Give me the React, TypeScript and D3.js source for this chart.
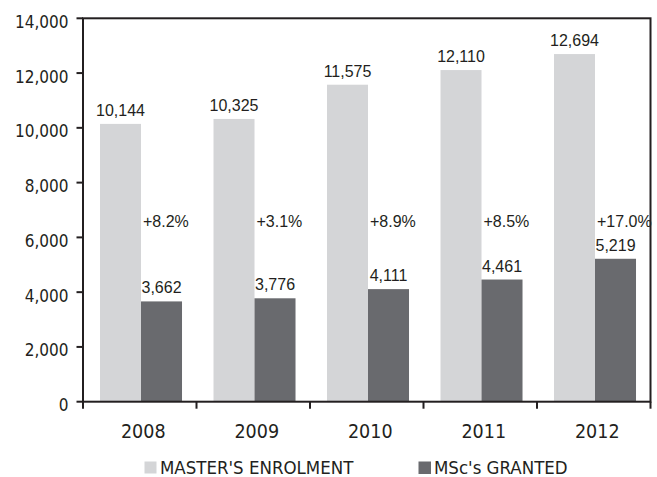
import React from "react";
import * as d3 from "d3";

const years = ["2008", "2009", "2010", "2011", "2012"];
const enrolment = [10144, 10325, 11575, 12110, 12694];
const granted = [3662, 3776, 4111, 4461, 5219];
const growth = ["+8.2%", "+3.1%", "+8.9%", "+8.5%", "+17.0%"];
const yTicks = [0, 2000, 4000, 6000, 8000, 10000, 12000, 14000];
const seriesNames = ["MASTER'S ENROLMENT", "MSc's GRANTED"];
const seriesKeys = ["enrol", "granted"];
const colors = ["#d4d5d7", "#696a6e"];
const GROWTH_LABEL_VALUE = 6390;

const W = 657;
const H = 477;
const left = 83;
const right = 650.5;
const top = 18.3;
const bottom = 401.7;
const axisColor = "#231f20";
const axisFont = "'DejaVu Sans Condensed', 'DejaVu Sans', sans-serif";
const valueFont = "'Liberation Sans', Arial, sans-serif";

export default function App() {
  const x = d3.scaleBand<string>().domain(years).range([left, right]).padding(0);
  const xs = d3
    .scaleBand<string>()
    .domain(seriesKeys)
    .range([0, x.bandwidth()])
    .paddingInner(0)
    .paddingOuter(0.384)
    .align(0.54);
  const y = d3.scaleLinear().domain([0, 14000]).range([bottom, top]);
  const fmt = d3.format(",");

  return (
    <svg
      width={W}
      height={H}
      style={{ position: "absolute", left: 0, top: 0, display: "block", background: "#fff" }}
    >
      {/* bars */}
      {years.map((yr, i) => {
        const bx = x(yr)!;
        const e = enrolment[i];
        const g = granted[i];
        return (
          <g key={yr}>
            <rect
              x={bx + xs("enrol")!}
              y={y(e)}
              width={xs.bandwidth()}
              height={y(0) - y(e)}
              fill={colors[0]}
            />
            <rect
              x={bx + xs("granted")!}
              y={y(g)}
              width={xs.bandwidth()}
              height={y(0) - y(g)}
              fill={colors[1]}
            />
            <text
              x={bx + xs("enrol")! + xs.bandwidth() / 2}
              y={y(e) - 8}
              textAnchor="middle"
              fontFamily={valueFont}
              fontSize={16}
              fill="#231f20"
            >
              {fmt(e)}
            </text>
            <text
              x={bx + xs("granted")! + xs.bandwidth() / 2}
              y={y(g) - 8}
              textAnchor="middle"
              fontFamily={valueFont}
              fontSize={16}
              fill="#231f20"
            >
              {fmt(g)}
            </text>
            <text
              x={bx + xs("granted")! + 2}
              y={y(GROWTH_LABEL_VALUE)}
              textAnchor="start"
              fontFamily={valueFont}
              fontSize={16}
              fill="#231f20"
            >
              {growth[i]}
            </text>
          </g>
        );
      })}

      {/* frame */}
      <rect
        x={left}
        y={top}
        width={right - left}
        height={bottom - top}
        fill="none"
        stroke={axisColor}
        strokeWidth={2}
      />

      {/* y axis ticks */}
      {yTicks.map((t) => (
        <g key={t}>
          <line x1={left - 6.5} x2={left} y1={y(t)} y2={y(t)} stroke={axisColor} strokeWidth={2} />
          <text
            x={68.5}
            y={y(t) + 9.5}
            textAnchor="end"
            fontFamily={axisFont}
            fontSize={17}
            fill="#231f20"
          >
            {fmt(t)}
          </text>
        </g>
      ))}

      {/* x axis ticks */}
      {[...years.map((yr) => x(yr)!), right].map((px, i) => (
        <line key={i} x1={px} x2={px} y1={bottom} y2={bottom + 7} stroke={axisColor} strokeWidth={2} />
      ))}
      {years.map((yr) => (
        <text
          key={yr}
          x={x(yr)! + x.bandwidth() / 2 + 3.5}
          y={438.3}
          textAnchor="middle"
          fontFamily={axisFont}
          fontSize={19.5}
          fill="#231f20"
        >
          {yr}
        </text>
      ))}

      {/* legend */}
      <rect x={144.5} y={461.5} width={12} height={12} fill={colors[0]} />
      <text x={160} y={473.5} fontFamily={axisFont} fontSize={18.5} fill="#231f20">
        {seriesNames[0]}
      </text>
      <rect x={418.5} y={461.5} width={12.5} height={12.5} fill={colors[1]} />
      <text x={434} y={473.5} fontFamily={axisFont} fontSize={18.5} fill="#231f20">
        {seriesNames[1]}
      </text>
    </svg>
  );
}
